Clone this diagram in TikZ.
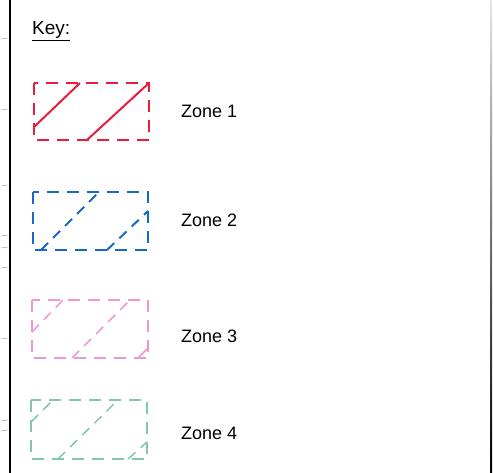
\documentclass[tikz,border=0pt]{standalone}
\usepackage{fontspec}
\setmainfont{Liberation Sans}
\definecolor{zonered}{RGB}{232,28,60}
\definecolor{zoneblue}{RGB}{24,104,200}
\definecolor{zonepink}{RGB}{240,150,210}
\definecolor{zonegreen}{RGB}{130,200,170}
\usetikzlibrary{positioning}

\begin{document}
\begin{tikzpicture}[x=1pt, y=-1pt,
    zonebox/.style={line width=2pt, dash pattern=on 12pt off 8pt},
    zonehatch/.style={line width=2pt, dash pattern=on 10pt off 7pt},
    zonelabel/.style={anchor=west, inner sep=0pt, font=\fontsize{18}{21}\selectfont}]
    \useasboundingbox (0,0) rectangle (493,473);
    % Page borders
    \draw[line width=2.2pt] (10,0) -- (10,473);
    \shade[top color=gray!20, bottom color=black] (490,0) rectangle (492,473);
    % Ruled-paper ticks
    \foreach \y in {38,109,185,235,247,267,338,420,430}
      \draw[gray!70, line width=0.5pt] (1,\y+1) -- (8,\y);
    % Title
    \node[zonelabel, anchor=base west, font=\fontsize{19}{22}\selectfont]
      (keytitle) at (32,35) {\underline{Key:}};
    % Boxes and labels
    \foreach \col/\xa/\ya/\xb/\yb/\ly/\n in {
      zonered/34/83/149/140/111/1,
      zoneblue/33/192/148/250/220/2,
      zonepink/32/300/148/358/336/3,
      zonegreen/31/400/147/459/433/4
    }{
      \draw[zonebox, \col] (\xa,\ya) rectangle (\xb,\yb);
      \node[zonelabel] (zone\n) at (181,\ly) {Zone \n};
    }
    % Zone 1 hatching
    \draw[zonered, line width=2pt] (34,127) -- (80,83);
    \draw[zonered, line width=2pt] (87,140) -- (149,83);
    % Zone 2 hatching
    \draw[zonehatch, zoneblue] (41,250) -- (99,192);
    \draw[zonehatch, zoneblue] (107,250) -- (148,211);
    % Zone 3 hatching
    \draw[zonehatch, zonepink, line width=1.5pt] (32,332) -- (63,300);
    \draw[zonehatch, zonepink, line width=1.5pt] (72,358) -- (130,300);
    \draw[zonepink, line width=1.5pt] (138,358) -- (148,348);
    % Zone 4 hatching
    \draw[zonehatch, zonegreen, line width=1.5pt] (31,422) -- (53,400);
    \draw[zonehatch, zonegreen, line width=1.5pt] (58,459) -- (118,400);
    \draw[zonehatch, zonegreen, line width=1.5pt] (128,459) -- (147,442);
\end{tikzpicture}
\end{document}
